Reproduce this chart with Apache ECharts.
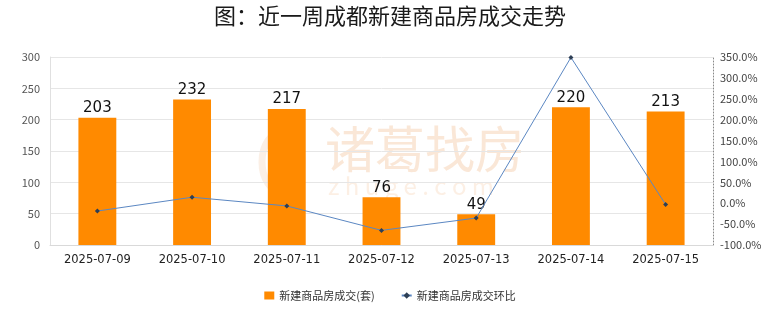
<!DOCTYPE html>
<html>
<head>
<meta charset="utf-8">
<script src="https://cdn.jsdelivr.net/npm/echarts@6/dist/echarts.min.js"></script>
<style>
  html, body { margin: 0; padding: 0; background: #ffffff; }
  #chart { width: 780px; height: 328px; }
</style>
</head>
<body>
<div id="chart"></div>
<script>
// Daily dates of the week
const dates = ['2025-07-09', '2025-07-10', '2025-07-11', '2025-07-12', '2025-07-13', '2025-07-14', '2025-07-15'];
// New commercial housing deals (units)
const deals = [203, 232, 217, 76, 49, 220, 213];
// Day-over-day change (%)
const dodChange = [-18.7, 14.3, -6.5, -65.0, -35.5, 349.0, -3.2];

const barName = '新建商品房成交(套)';
const lineName = '新建商品房成交环比';
const titleText = '图：近一周成都新建商品房成交走势';
const markText = '诸葛找房';
const markSub = 'zhuge.com';

const FONT = '"Noto Sans CJK SC", "Noto Sans", sans-serif';
const NUM_FONT = '"DejaVu Sans", sans-serif';

const chart = echarts.init(document.getElementById('chart'), null, { renderer: 'canvas' });

chart.setOption({
  backgroundColor: '#ffffff',
  animation: false,
  textStyle: { fontFamily: FONT },
  title: {
    text: titleText,
    left: 'center',
    top: 0,
    textStyle: { fontFamily: FONT, fontSize: 22, fontWeight: 'normal', color: '#1a1a1a' }
  },
  graphic: [
    {
      type: 'ellipse',
      z: -10, silent: true,
      shape: { cx: 282, cy: 162, rx: 20, ry: 30 },
      style: { fill: 'none', stroke: 'rgba(240, 190, 150, 0.25)', lineWidth: 7 }
    },
    {
      type: 'text',
      left: 325, top: 124, z: -10, silent: true,
      style: { text: markText, font: 'normal 50px ' + FONT, fill: 'rgba(240, 180, 130, 0.32)' }
    },
    {
      type: 'text',
      left: 328, top: 174, z: -10, silent: true,
      style: { text: markSub.split('').join(' '), font: '24px ' + FONT, fill: 'rgba(240, 180, 130, 0.22)' }
    }
  ],
  legend: {
    bottom: 22,
    left: 'center',
    itemWidth: 10,
    itemHeight: 8,
    itemGap: 26,
    textStyle: { fontSize: 11, color: '#333' },
    data: [
      { name: barName, icon: 'rect' },
      { name: lineName }
    ]
  },
  grid: { left: 50, right: 67, top: 57, bottom: 83 },
  xAxis: {
    type: 'category',
    data: dates,
    axisLine: { show: true, lineStyle: { color: '#d9d9d9' } },
    axisTick: { show: false },
    axisLabel: { fontSize: 11.5, fontFamily: NUM_FONT, color: '#222', margin: 9 }
  },
  yAxis: [
    {
      type: 'value',
      min: 0, max: 300, interval: 50,
      axisLine: { show: true, lineStyle: { color: '#e0e0e0' } },
      axisTick: { show: false },
      axisLabel: { fontSize: 11, color: '#555', margin: 10 },
      splitLine: { lineStyle: { color: '#e6e6e6' } }
    },
    {
      type: 'value',
      min: -100, max: 350, interval: 50,
      position: 'right',
      axisLine: { show: true, lineStyle: { color: '#888', type: [1, 2] } },
      axisTick: { show: false },
      axisLabel: {
        fontSize: 11, color: '#444', margin: 7,
        formatter: v => v.toFixed(1) + '%'
      },
      splitLine: { show: false }
    }
  ],
  series: [
    {
      name: barName,
      type: 'bar',
      data: deals,
      barWidth: '40%',
      itemStyle: { color: '#ff8a00' },
      label: {
        show: true, position: 'top', distance: 2,
        fontSize: 15, fontFamily: NUM_FONT, color: '#111'
      },
      z: 2
    },
    {
      name: lineName,
      type: 'line',
      yAxisIndex: 1,
      data: dodChange,
      symbol: 'diamond',
      symbolSize: 5,
      lineStyle: { color: '#5b87c2', width: 1 },
      itemStyle: { color: '#2e3f55' },
      z: 3
    }
  ]
});
</script>
</body>
</html>
